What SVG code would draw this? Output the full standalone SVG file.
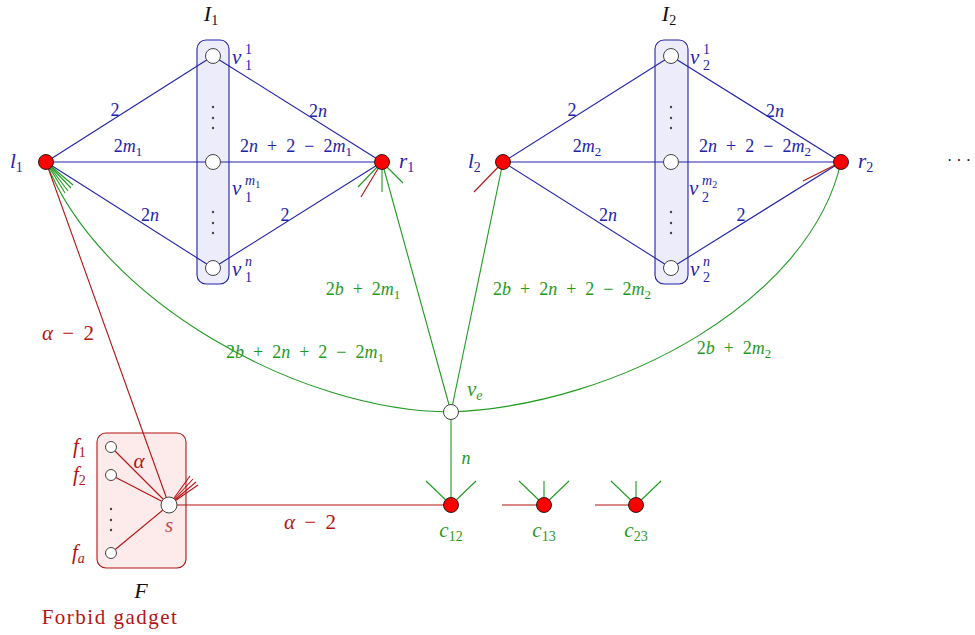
<svg xmlns="http://www.w3.org/2000/svg" width="975" height="635" viewBox="0 0 975 635">
<style>
text{font-family:"Liberation Serif","DejaVu Serif",serif;}
.b{fill:#2222aa;}
.g{fill:#1f9a1f;}
.r{fill:#b31313;}
.k{fill:#111;}
.el{font-size:18px;text-anchor:middle;word-spacing:4.5px;}
.nl{font-size:21px;}
.sb{font-size:14px;font-style:normal;}
.i{font-style:italic;}
.eb{stroke:#2222aa;stroke-width:1.1;fill:none;}
.eg{stroke:#1f9a1f;stroke-width:1.1;fill:none;}
.er{stroke:#b31313;stroke-width:1.1;fill:none;}
.wn{fill:#fff;stroke:#444;stroke-width:1;}
.rn{fill:#ff0000;stroke:#111;stroke-width:0.9;}
.dot{fill:#444;}
</style>

<!-- containers -->
<g id="I1">
<rect x="197" y="40" width="32" height="244" rx="9" fill="#ececfb" stroke="#2222aa" stroke-width="1.1"/>
<text x="211" y="21" class="i k" font-size="22" text-anchor="middle">I<tspan dy="4" class="sb">1</tspan></text>
<circle class="dot" cx="213" cy="107" r="1.2"/><circle class="dot" cx="213" cy="118" r="1.2"/><circle class="dot" cx="213" cy="128" r="1.2"/>
<circle class="dot" cx="213" cy="212" r="1.2"/><circle class="dot" cx="213" cy="223" r="1.2"/><circle class="dot" cx="213" cy="233" r="1.2"/>
</g>
<g id="I2">
<rect x="655" y="40" width="33" height="244" rx="9" fill="#ececfb" stroke="#2222aa" stroke-width="1.1"/>
<text x="669" y="21" class="i k" font-size="22" text-anchor="middle">I<tspan dy="4" class="sb">2</tspan></text>
<circle class="dot" cx="671" cy="107" r="1.2"/><circle class="dot" cx="671" cy="118" r="1.2"/><circle class="dot" cx="671" cy="128" r="1.2"/>
<circle class="dot" cx="671" cy="212" r="1.2"/><circle class="dot" cx="671" cy="223" r="1.2"/><circle class="dot" cx="671" cy="233" r="1.2"/>
</g>
<g id="F">
<rect x="97" y="433" width="89" height="135" rx="9" fill="#fdeaea" stroke="#b31313" stroke-width="1.1"/>
<circle class="dot" cx="111" cy="509" r="1.2"/><circle class="dot" cx="111" cy="520" r="1.2"/><circle class="dot" cx="111" cy="530" r="1.2"/>
<text x="141" y="598" class="i k" font-size="22" text-anchor="middle">F</text>
<text x="110" y="624" class="r" font-size="21" letter-spacing="1.5" text-anchor="middle">Forbid gadget</text>
</g>

<!-- connectors -->
<g id="connectors">
<!-- blue I1 -->
<line class="eb" x1="46" y1="162" x2="213" y2="56"/>
<line class="eb" x1="46" y1="162" x2="213" y2="162"/>
<line class="eb" x1="46" y1="162" x2="213" y2="268"/>
<line class="eb" x1="213" y1="56" x2="382" y2="162"/>
<line class="eb" x1="213" y1="162" x2="382" y2="162"/>
<line class="eb" x1="213" y1="268" x2="382" y2="162"/>
<!-- blue I2 -->
<line class="eb" x1="503" y1="162" x2="671" y2="56"/>
<line class="eb" x1="503" y1="162" x2="671" y2="162"/>
<line class="eb" x1="503" y1="162" x2="671" y2="268"/>
<line class="eb" x1="671" y1="56" x2="841" y2="162"/>
<line class="eb" x1="671" y1="162" x2="841" y2="162"/>
<line class="eb" x1="671" y1="268" x2="841" y2="162"/>
<!-- green -->
<path class="eg" d="M46,162 C100,300 300,412 451,412"/>
<line class="eg" x1="382" y1="162" x2="451" y2="412"/>
<line class="eg" x1="503" y1="162" x2="451" y2="412"/>
<path class="eg" d="M841,162 C810,300 620,405 451,412"/>
<line class="eg" x1="451" y1="412" x2="451" y2="505"/>
<!-- red -->
<line class="er" x1="46" y1="162" x2="169" y2="505"/>
<line class="er" x1="169" y1="505" x2="451" y2="505"/>
<line class="er" x1="111" y1="447" x2="169" y2="505"/>
<line class="er" x1="111" y1="475" x2="169" y2="505"/>
<line class="er" x1="111" y1="553" x2="169" y2="505"/>
<!-- stubs -->
<g class="eg">
<line x1="46" y1="162" x2="73" y2="185"/>
<line x1="46" y1="162" x2="71" y2="188"/>
<line x1="46" y1="162" x2="68" y2="191"/>
<line x1="46" y1="162" x2="65" y2="193"/>
<line x1="382" y1="162" x2="358" y2="187"/>
<line x1="382" y1="162" x2="382" y2="192"/>
<line x1="382" y1="162" x2="403" y2="183"/>
<line x1="451" y1="505" x2="426" y2="481"/>
<line x1="451" y1="505" x2="476" y2="481"/>
<line x1="544" y1="505" x2="519" y2="481"/>
<line x1="544" y1="505" x2="544" y2="481"/>
<line x1="544" y1="505" x2="569" y2="481"/>
<line x1="636" y1="505" x2="611" y2="481"/>
<line x1="636" y1="505" x2="636" y2="481"/>
<line x1="636" y1="505" x2="661" y2="481"/>
</g>
<g class="er">
<line x1="382" y1="162" x2="361" y2="197"/>
<line x1="503" y1="162" x2="474" y2="192"/>
<line x1="841" y1="162" x2="803" y2="181"/>
<line x1="169" y1="505" x2="190" y2="476"/>
<line x1="169" y1="505" x2="193" y2="479"/>
<line x1="169" y1="505" x2="196" y2="482"/>
<line x1="169" y1="505" x2="198" y2="485"/>
<line x1="544" y1="505" x2="502" y2="505"/>
<line x1="636" y1="505" x2="595" y2="505"/>
</g>
<!-- edge labels blue -->
<g class="b el">
<text x="115" y="116">2</text>
<text x="128" y="152">2<tspan class="i">m</tspan><tspan dy="4" font-size="13">1</tspan></text>
<text x="150" y="221">2<tspan class="i">n</tspan></text>
<text x="318" y="117">2<tspan class="i">n</tspan></text>
<text x="296" y="152">2<tspan class="i">n</tspan> + 2 − 2<tspan class="i">m</tspan><tspan dy="4" font-size="13">1</tspan></text>
<text x="285" y="221">2</text>
<text x="572" y="116">2</text>
<text x="587" y="152">2<tspan class="i">m</tspan><tspan dy="4" font-size="13">2</tspan></text>
<text x="608" y="221">2<tspan class="i">n</tspan></text>
<text x="775" y="117">2<tspan class="i">n</tspan></text>
<text x="755" y="152">2<tspan class="i">n</tspan> + 2 − 2<tspan class="i">m</tspan><tspan dy="4" font-size="13">2</tspan></text>
<text x="741" y="221">2</text>
</g>
<g class="g el">
<text x="363" y="295">2<tspan class="i">b</tspan> + 2<tspan class="i">m</tspan><tspan dy="4" font-size="13">1</tspan></text>
<text x="572" y="295">2<tspan class="i">b</tspan> + 2<tspan class="i">n</tspan> + 2 − 2<tspan class="i">m</tspan><tspan dy="4" font-size="13">2</tspan></text>
<text x="305" y="358">2<tspan class="i">b</tspan> + 2<tspan class="i">n</tspan> + 2 − 2<tspan class="i">m</tspan><tspan dy="4" font-size="13">1</tspan></text>
<text x="734" y="354">2<tspan class="i">b</tspan> + 2<tspan class="i">m</tspan><tspan dy="4" font-size="13">2</tspan></text>
<text x="466" y="464" class="i">n</text>
</g>
<g class="r" font-size="21" text-anchor="middle" word-spacing="4">
<text x="68" y="340"><tspan class="i">α</tspan> − 2</text>
<text x="310" y="529"><tspan class="i">α</tspan> − 2</text>
<text x="139" y="468" class="i">α</text>
</g>
</g>

<!-- nodes -->
<g id="l1"><circle class="rn" cx="46" cy="162" r="7.5"/><text x="10" y="168" class="b nl i">l<tspan dy="4" class="sb">1</tspan></text></g>
<g id="r1"><circle class="rn" cx="382" cy="162" r="7.5"/><text x="399" y="168" class="b nl i">r<tspan dy="4" class="sb">1</tspan></text></g>
<g id="v1_1"><circle class="wn" cx="213" cy="56" r="7.5"/><text x="232" y="64" class="b nl i">v</text><text x="245" y="54" class="b sb">1</text><text x="245" y="70" class="b sb">1</text></g>
<g id="v1_m1"><circle class="wn" cx="213" cy="162" r="7.5"/><text x="232" y="195" class="b nl i">v</text><text x="245" y="185" class="b sb"><tspan class="i">m</tspan><tspan dy="3" font-size="10">1</tspan></text><text x="245" y="202" class="b sb">1</text></g>
<g id="v1_n"><circle class="wn" cx="213" cy="268" r="7.5"/><text x="232" y="276" class="b nl i">v</text><text x="245" y="266" class="b sb i">n</text><text x="245" y="282" class="b sb">1</text></g>
<g id="l2"><circle class="rn" cx="503" cy="162" r="7.5"/><text x="468" y="168" class="b nl i">l<tspan dy="4" class="sb">2</tspan></text></g>
<g id="r2"><circle class="rn" cx="841" cy="162" r="7.5"/><text x="858" y="168" class="b nl i">r<tspan dy="4" class="sb">2</tspan></text></g>
<g id="v2_1"><circle class="wn" cx="671" cy="56" r="7.5"/><text x="690" y="64" class="b nl i">v</text><text x="703" y="54" class="b sb">1</text><text x="703" y="70" class="b sb">2</text></g>
<g id="v2_m2"><circle class="wn" cx="671" cy="162" r="7.5"/><text x="689" y="195" class="b nl i">v</text><text x="702" y="185" class="b sb"><tspan class="i">m</tspan><tspan dy="3" font-size="10">2</tspan></text><text x="702" y="202" class="b sb">2</text></g>
<g id="v2_n"><circle class="wn" cx="671" cy="268" r="7.5"/><text x="690" y="276" class="b nl i">v</text><text x="703" y="266" class="b sb i">n</text><text x="703" y="282" class="b sb">2</text></g>
<g id="dots"><text x="959" y="166" class="k" font-size="16" text-anchor="middle">· · ·</text></g>
<g id="ve"><circle class="wn" cx="451" cy="412" r="7.5"/><text x="467" y="396" class="g nl i">v<tspan dy="4" class="sb i">e</tspan></text></g>
<g id="c12"><circle class="rn" cx="451" cy="505" r="7.5"/><text x="451" y="537" class="g nl" text-anchor="middle"><tspan class="i">c</tspan><tspan dy="4" class="sb">12</tspan></text></g>
<g id="c13"><circle class="rn" cx="544" cy="505" r="7.5"/><text x="544" y="537" class="g nl" text-anchor="middle"><tspan class="i">c</tspan><tspan dy="4" class="sb">13</tspan></text></g>
<g id="c23"><circle class="rn" cx="636" cy="505" r="7.5"/><text x="636" y="537" class="g nl" text-anchor="middle"><tspan class="i">c</tspan><tspan dy="4" class="sb">23</tspan></text></g>
<g id="s"><circle class="wn" cx="169" cy="505" r="8"/><text x="169" y="532" class="nl i" fill="#c84848" text-anchor="middle">s</text></g>
<g id="f1"><circle class="wn" cx="111" cy="447" r="5.5"/><text x="73" y="453" class="r nl i">f<tspan dy="4" class="sb">1</tspan></text></g>
<g id="f2"><circle class="wn" cx="111" cy="475" r="5.5"/><text x="73" y="481" class="r nl i">f<tspan dy="4" class="sb">2</tspan></text></g>
<g id="fa"><circle class="wn" cx="111" cy="553" r="5.5"/><text x="72" y="559" class="r nl i">f<tspan dy="4" class="sb i">a</tspan></text></g>
</svg>
